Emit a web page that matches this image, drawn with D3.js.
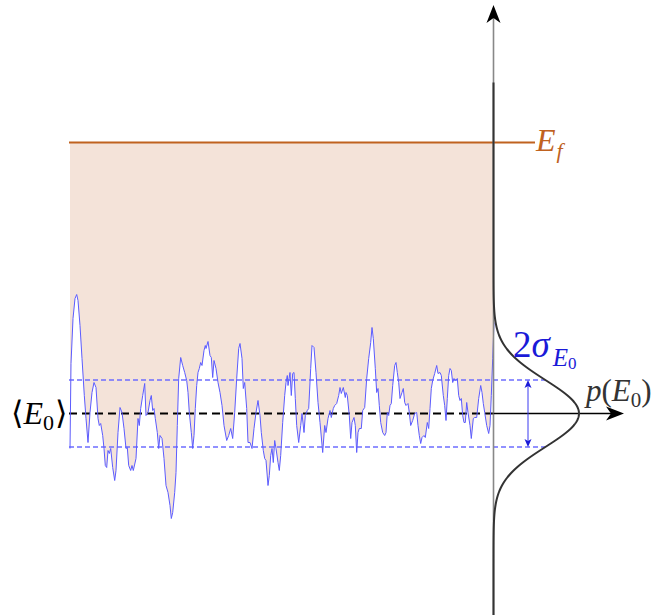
<!DOCTYPE html>
<html><head><meta charset="utf-8">
<script src="https://cdn.jsdelivr.net/npm/d3@7"></script>
<style>body{margin:0;background:#fff}svg{display:block}</style>
</head><body>
<svg id="c" width="659" height="615"></svg>
<script>
// ---- data (time samples and energy relative to the mean, arbitrary units) ----
const time = [0,1,3,5,6.7,8,10,12,14.3,16,18,20,22,24,26,28,29.3,30.7,32.7,34,35.3,36.7,38,39.3,40.7,42.7,44.7,46,48,50,52,54,56,57.3,58.7,60.7,62,63.3,66,68,
69.3,70.7,72.7,74.7,76,78,80,81.3,82.7,84,85.3,87.3,88.7,90,92,94,96,98,100,101.3,102.7,104.7,106,107.3,108.7,110.7,112.7,114.7,116.7,118,119.3,121.3,122.7,124,125.3,126.7,128,129.3,130.7,132,134,135.3,136,138,
140,141.3,142.7,144,146,148,150,152,154,156.7,158.7,160.7,162.7,164.7,166.7,168.7,170,172,173.3,174.7,176.7,178,180,182,184,186,188,190,191.3,193.3,194.7,196,198,199.3,200.7,202,203.3,204.7,206,
208,209.3,210.7,212.7,214.7,216,217.3,218,220,221.3,222.7,224,225.3,226.7,228.7,230.7,232,234,235.3,237.3,238.7,240.7,242,244,246,248,250,252.7,254.7,256,258,260,261.3,263.3,264.7,266.7,268.7,270,271.3,273.3,275.3,276,
277.3,279.3,280.7,282,284,285.3,286.7,288,289.3,291.3,292.7,294.7,296.7,298.7,300.7,302,303.3,305.3,306.7,308,309.3,310.7,312.7,314.7,316,317.3,318.7,320,321.3,322.7,324.7,326,327.3,328.7,330,332,333.3,334.7,336,338,339.3,340.7,342.7,344.7,346.7,
348,349.3,350.7,352,354,355.3,357.3,358.7,360,361.3,362.7,364.7,366.7,368,370,371.3,373.3,374.7,376,377.3,378.7,380,381.3,382.7,384,385.3,387.3,388.7,390,391.3,392.7,394,395.3,396.7,398,400,401.3,403.3,404.7,406.7,408.7,410.7,412,413.3,414.7,416.7,418.7,420,421.3,422.7,424];
const energy = [-35,50,95,115,119,113,88,55,18,-5,-29,1,21,31,26,-5,-12,-10,-22,-35,-52,-54,-37,-40,-35,-54,-67,-57,-19,6,1,-15,-35,-34,-52,-57,-52,-57,-45,-5,
-12,5,18,30,-2,1,13,18,3,5,-5,-19,-35,-22,-25,-45,-72,-79,-92,-105,-99,-79,-59,-12,35,56,48,41,33,21,1,-19,-35,-22,5,28,41,45,51,48,63,68,65,72,
58,56,36,53,45,31,21,8,-12,-27,-22,-15,-25,1,35,65,70,55,25,31,5,-29,-29,-35,-15,1,13,-2,-19,-37,-45,-47,-72,-62,-42,-35,-49,-27,-35,
-49,-57,-42,-9,18,31,38,28,41,18,40,41,15,-12,-29,-12,0,-19,-2,3,5,45,68,66,41,11,-9,-39,-12,-19,-5,3,-4,5,8,10,18,26,20,26,16,21,
18,-2,-25,-9,-4,-12,-39,-19,-15,-15,3,6,35,55,71,86,75,45,21,25,8,-9,-19,-22,-19,1,-2,8,10,28,48,51,41,31,15,21,25,11,8,10,1,-12,-7,0,1,
-12,-22,-30,-24,-22,-24,-9,-15,5,25,33,40,48,40,41,38,18,8,-7,15,38,45,43,31,35,33,35,18,13,15,-2,-9,-9,11,1,-12,-25,-5,-4,-4,15,28,21,10,1,-12,-20,-12,18,55,91];
const meanE = 0;
const sigmaE = 33.5;
const finalE = 271;
const energyRange = [-205, 331];   // extent of the distribution curve

const svg = d3.select('#c');
const x = d3.scaleLinear().domain([0, 424]).range([70, 494]);
const y = d3.scaleLinear().domain([0, 271]).range([413.5, 142.5]);
const axisX = 493.5;
const p = d3.scaleLinear().domain([0, 1]).range([axisX, 579]);

const pts = time.map((t, i) => ({t, e: energy[i]}));

// filled region between trace and E_f
svg.append('path').datum(pts)
  .attr('d', d3.area().x(d => x(d.t)).y0(y(finalE)).y1(d => y(d.e)))
  .attr('fill', '#f4e3d9');

// E_f line
svg.append('line')
  .attr('x1', x(0) - 1).attr('x2', 535)
  .attr('y1', y(finalE)).attr('y2', y(finalE))
  .attr('stroke', '#c0621f').attr('stroke-width', 2);

// gaussian helper
const gauss = e => Math.exp(-((e - meanE) ** 2) / (2 * sigmaE * sigmaE));
const xSig = p(gauss(meanE + sigmaE));

// sigma dashed lines
[meanE + sigmaE, meanE - sigmaE].forEach(v => {
  svg.append('line')
    .attr('x1', x(0) - 1).attr('x2', xSig)
    .attr('y1', y(v)).attr('y2', y(v))
    .attr('stroke', '#6e6eff').attr('stroke-width', 1.3)
    .attr('stroke-dasharray', '5,3');
});

// mean dashed line
svg.append('line')
  .attr('x1', x(0) - 1).attr('x2', axisX)
  .attr('y1', y(meanE)).attr('y2', y(meanE))
  .attr('stroke', '#000').attr('stroke-width', 2)
  .attr('stroke-dasharray', '8,5');

// noisy trace
svg.append('path').datum(pts)
  .attr('d', d3.line().x(d => x(d.t)).y(d => y(d.e)))
  .attr('fill', 'none').attr('stroke', '#5c5cff').attr('stroke-width', 1);

// vertical axis
svg.append('line')
  .attr('x1', axisX).attr('x2', axisX).attr('y1', 615).attr('y2', 14)
  .attr('stroke', '#888').attr('stroke-width', 1.6);
svg.append('path')
  .attr('d', `M${axisX},5 L${axisX + 7},23 L${axisX},18 L${axisX - 7},23 Z`)
  .attr('fill', '#000');

// horizontal axis arrow
svg.append('line')
  .attr('x1', axisX).attr('x2', 615).attr('y1', y(meanE)).attr('y2', y(meanE))
  .attr('stroke', '#000').attr('stroke-width', 1.6);
svg.append('path')
  .attr('d', `M624,${y(meanE)} L606,${y(meanE) - 7} L611,${y(meanE)} L606,${y(meanE) + 7} Z`)
  .attr('fill', '#000');

// gaussian distribution
const gPts = d3.range(energyRange[0], energyRange[1] + 1, 1);
svg.append('path').datum(gPts)
  .attr('d', d3.line().x(e => p(gauss(e))).y(e => y(e)))
  .attr('fill', 'none').attr('stroke', '#333').attr('stroke-width', 2);

// double arrow for 2 sigma
const ax = 528, yTop = y(meanE + sigmaE), yBot = y(meanE - sigmaE);
svg.append('line').attr('x1', ax).attr('x2', ax).attr('y1', yTop + 3).attr('y2', yBot - 3)
  .attr('stroke', '#3a3af0').attr('stroke-width', 1);
svg.append('path').attr('d', `M${ax},${yTop} L${ax + 3.5},${yTop + 8} L${ax},${yTop + 6} L${ax - 3.5},${yTop + 8} Z`).attr('fill', '#1a1ad8');
svg.append('path').attr('d', `M${ax},${yBot} L${ax + 3.5},${yBot - 8} L${ax},${yBot - 6} L${ax - 3.5},${yBot - 8} Z`).attr('fill', '#1a1ad8');

// labels
const serif = "Liberation Serif";
function label(xp, yp, color, parts) {
  const t = svg.append('text').attr('x', xp).attr('y', yp).attr('fill', color)
    .style('font-family', "'Liberation Serif', 'DejaVu Serif', serif");
  parts.forEach(pt => {
    const s = t.append('tspan').text(pt.s).attr('font-size', pt.size);
    if (pt.it) s.attr('font-style', 'italic');
    if (pt.dy) s.attr('dy', pt.dy);
    if (pt.dx) s.attr('dx', pt.dx);
  });
}
label(536, 151, '#c0621f', [{s: 'E', it: 1, size: 32}, {s: 'f', it: 1, size: 22, dy: 7, dx: 1}]);
label(11, 424, '#000', [{s: '⟨', size: 32}, {s: 'E', it: 1, size: 32}, {s: '0', size: 22, dy: 6}, {s: '⟩', size: 32, dy: -6, dx: 1}]);
label(513, 357, '#1a1ad8', [{s: '2', size: 37}, {s: 'σ', it: 1, size: 37}, {s: 'E', it: 1, size: 25, dy: 9, dx: 3}, {s: '0', size: 17, dy: 3}]);
label(586, 401, '#333', [{s: 'p', it: 1, size: 31}, {s: '(', size: 31}, {s: 'E', it: 1, size: 31}, {s: '0', size: 21, dy: 6}, {s: ')', size: 31, dy: -6}]);
</script>
</body></html>
